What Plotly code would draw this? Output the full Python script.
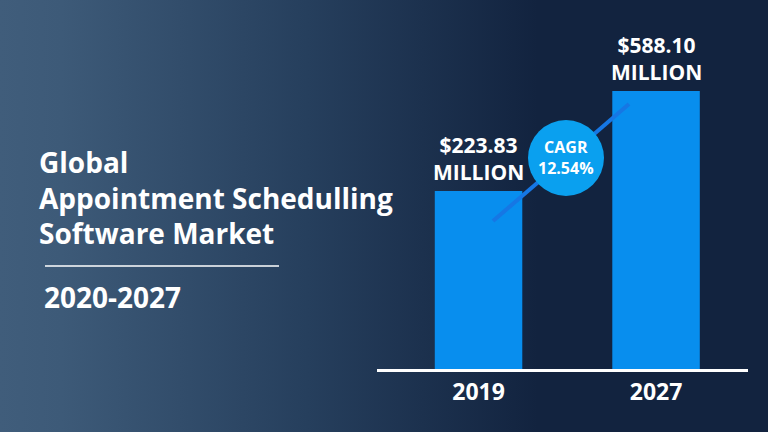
import base64
import math
import plotly.graph_objects as go

# Data
years = ["2019", "2027"]
market_size = [223.83, 588.10]          # USD million
value_labels = ["$223.83", "$588.10"]
cagr_text = "12.54%"
title_lines = ["Global", "Appointment Schedulling", "Software Market"]
period_text = "2020-2027"

W, H = 768, 432
FONT = "Open Sans"

# background gradient as an inline svg
svg = (
    f'<svg xmlns="http://www.w3.org/2000/svg" width="{W}" height="{H}">'
    '<defs><linearGradient id="g" x1="0" x2="1" y1="0" y2="0">'
    '<stop offset="0" stop-color="#405d7b"/>'
    '<stop offset="0.08" stop-color="#3d5a78"/>'
    '<stop offset="0.40" stop-color="#263f5d"/>'
    '<stop offset="0.70" stop-color="#12233f"/>'
    '<stop offset="1" stop-color="#12233f"/>'
    '</linearGradient></defs>'
    f'<rect width="{W}" height="{H}" fill="url(#g)"/></svg>'
)
bg_uri = "data:image/svg+xml;base64," + base64.b64encode(svg.encode()).decode()


def px(x):
    return x / W


def py(y):
    return 1 - y / H


fig = go.Figure()
fig.add_trace(go.Bar(
    x=years,
    y=market_size,
    marker=dict(color="#088eee", line=dict(width=0)),
    hoverinfo="skip",
))

# value labels above bars (category index for x, log units for y)
for i, (val, lab) in enumerate(zip(market_size, value_labels)):
    fig.add_annotation(
        x=i, y=math.log10(val), xref="x", yref="y",
        text=f"<b>{lab}</b><br><b>MILLION</b>",
        showarrow=False, xanchor="center", yanchor="bottom", yshift=3,
        font=dict(family=FONT, size=21, color="white"),
    )

# title block
for i, line in enumerate(title_lines):
    fig.add_annotation(
        x=px(37), y=py(162 + i * 35.5), xref="paper", yref="paper",
        text=f"<b>{line}</b>", showarrow=False,
        xanchor="left", yanchor="middle",
        font=dict(family=FONT, size=28, color="white"),
    )
fig.add_shape(type="line", xref="paper", yref="paper",
              x0=px(45), x1=px(279), y0=py(266), y1=py(266),
              line=dict(color="white", width=1.5))
fig.add_annotation(
    x=px(42), y=py(297), xref="paper", yref="paper",
    text=f"<b>{period_text}</b>", showarrow=False,
    xanchor="left", yanchor="middle",
    font=dict(family=FONT, size=28, color="white"),
)

# CAGR line + bubble
fig.add_shape(type="line", xref="paper", yref="paper",
              x0=px(493), y0=py(221), x1=px(629), y1=py(104),
              line=dict(color="#1677e4", width=4))
fig.add_shape(type="circle", xref="paper", yref="paper",
              xsizemode="pixel", ysizemode="pixel",
              xanchor=px(566), yanchor=py(158),
              x0=-38, x1=38, y0=-38, y1=38,
              fillcolor="#0aa0ef", line=dict(width=0))
fig.add_annotation(
    x=px(566), y=py(158), xref="paper", yref="paper",
    text=f"<b>CAGR</b><br><b>{cagr_text}</b>", showarrow=False,
    xanchor="center", yanchor="middle",
    font=dict(family=FONT, size=16, color="white"),
)

fig.update_layout(
    width=W, height=H,
    margin=dict(l=0, r=0, t=0, b=0),
    paper_bgcolor="#12233f",
    plot_bgcolor="rgba(0,0,0,0)",
    showlegend=False,
    bargap=0.507,
    images=[dict(source=bg_uri, xref="paper", yref="paper", x=0, y=1,
                 sizex=1, sizey=1, sizing="stretch", layer="below")],
    xaxis=dict(
        type="category",
        domain=[px(377), px(748)],
        range=[-0.572, 1.518],
        showline=True, linecolor="white", linewidth=3,
        showgrid=False, zeroline=False, ticks="",
        tickfont=dict(family=FONT, size=23, color="white", weight="bold"),
    ),
    yaxis=dict(
        type="log",
        domain=[py(369), py(30)],
        range=[1.6031, 3.0256],
        visible=False,
    ),
)

fig.write_html("out.html", config={"displayModeBar": False},
               post_script="document.body.style.margin='0';")
